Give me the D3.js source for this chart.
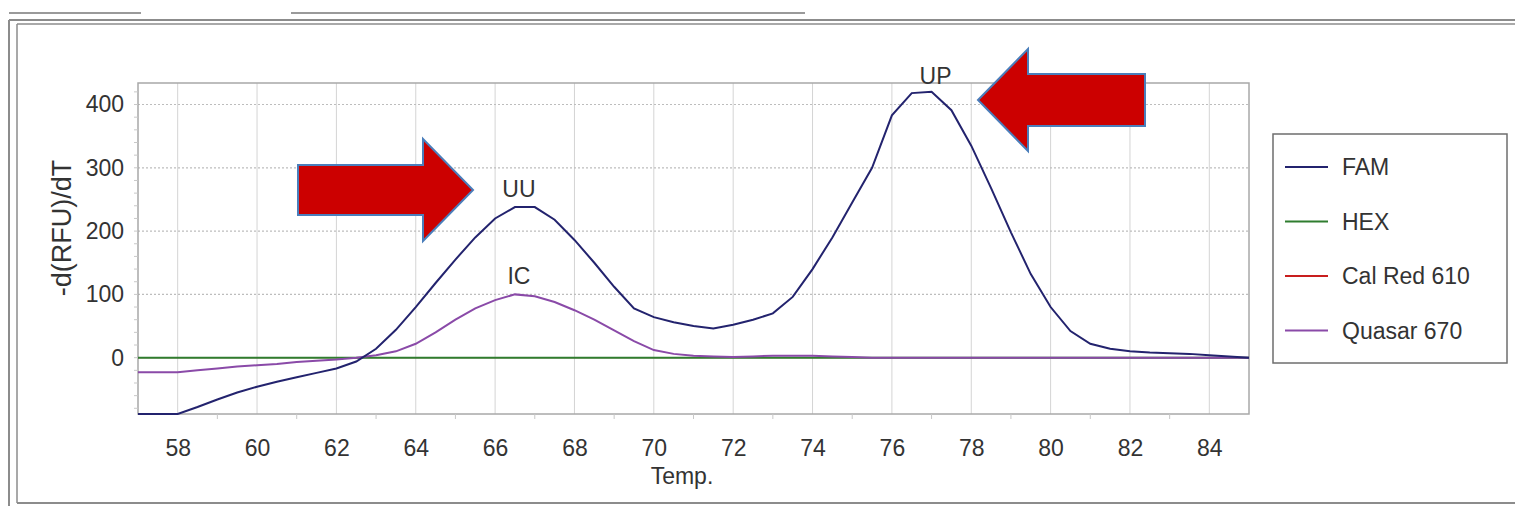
<!DOCTYPE html>
<html>
<head>
<meta charset="utf-8">
<script src="https://cdn.jsdelivr.net/npm/d3@7"></script>
<style>
  body { margin: 0; background: #fff; }
  svg { display: block; font-family: Arial, "Liberation Sans", sans-serif; }
</style>
</head>
<body>
<svg id="chart" width="1515" height="506"></svg>
<script>
// melt curve, sampled every 0.5 degree from 57 to 85
var temps = d3.range(57, 85.01, 0.5);

var famValues = [
  -89, -89, -89, -78, -66, -55, -46, -38, -31, -24,
  -17, -6, 14, 44, 80, 118, 155, 190, 220, 238,
  238, 218, 186, 150, 112, 78, 64, 56, 50, 46,
  52, 60, 70, 96, 140, 190, 245, 300, 383, 418,
  420, 391, 335, 268, 198, 132, 80, 42, 22, 14,
  10, 8, 7, 6, 4, 2, 0
];
var quasarValues = [
  -23, -23, -23, -20, -17, -14, -12, -10, -7, -5,
  -3, 0, 4, 10, 22, 40, 60, 78, 91, 100,
  97, 88, 75, 60, 43, 26, 12, 6, 3, 2,
  1, 2, 3, 3, 3, 2, 1, 0, 0, 0,
  0, 0, 0, 0, 0, 0, 0, 0, 0, 0,
  0, 0, 0, 0, 0, 0, 0
];
var hexValues = temps.map(function() { return 0; });
var calRedValues = temps.map(function() { return 0; });

var seriesNames = ["FAM", "HEX", "Cal Red 610", "Quasar 670"];
var seriesColors = ["#23236e", "#2f7d2f", "#c81e1e", "#8a4aa8"];

var xTicks = [58, 60, 62, 64, 66, 68, 70, 72, 74, 76, 78, 80, 82, 84];
var yTicks = [0, 100, 200, 300, 400];

var peakLabels = [
  {text: "UU", t: 66.6, v: 254},
  {text: "IC", t: 66.6, v: 116},
  {text: "UP", t: 77.1, v: 432}
];

var svg = d3.select("#chart");

var plot = {left: 138, top: 83, right: 1249, bottom: 414};
var x = d3.scaleLinear().domain([57, 85]).range([plot.left, plot.right]);
var y = d3.scaleLinear().domain([-89, 434]).range([plot.bottom, plot.top]);

// outer window frame
svg.append("line").attr("x1", 9).attr("x2", 141).attr("y1", 13).attr("y2", 13)
  .attr("stroke", "#9a9a9a").attr("stroke-width", 2);
svg.append("line").attr("x1", 291).attr("x2", 805).attr("y1", 13).attr("y2", 13)
  .attr("stroke", "#9a9a9a").attr("stroke-width", 2);
svg.append("line").attr("x1", 9).attr("x2", 1515).attr("y1", 20).attr("y2", 20)
  .attr("stroke", "#8c8c8c").attr("stroke-width", 2);
svg.append("line").attr("x1", 17).attr("x2", 1515).attr("y1", 24).attr("y2", 24)
  .attr("stroke", "#8c8c8c").attr("stroke-width", 1.5);
svg.append("line").attr("x1", 9).attr("x2", 9).attr("y1", 20).attr("y2", 506)
  .attr("stroke", "#8c8c8c").attr("stroke-width", 2);
svg.append("line").attr("x1", 17).attr("x2", 17).attr("y1", 24).attr("y2", 503)
  .attr("stroke", "#8c8c8c").attr("stroke-width", 1.5);
svg.append("line").attr("x1", 17).attr("x2", 1515).attr("y1", 503).attr("y2", 503)
  .attr("stroke", "#8c8c8c").attr("stroke-width", 2);

// grid
var grid = svg.append("g");
grid.selectAll("line.vgrid")
  .data(xTicks).enter()
  .append("line")
    .attr("class", "vgrid")
    .attr("x1", function(d) { return x(d); })
    .attr("x2", function(d) { return x(d); })
    .attr("y1", plot.top).attr("y2", plot.bottom)
    .attr("stroke", "#d4d4d4").attr("stroke-width", 1);
grid.selectAll("line.hgrid")
  .data(yTicks.filter(function(d) { return d > 0; })).enter()
  .append("line")
    .attr("class", "hgrid")
    .attr("x1", plot.left).attr("x2", plot.right)
    .attr("y1", function(d) { return y(d); })
    .attr("y2", function(d) { return y(d); })
    .attr("stroke", "#bdbdbd").attr("stroke-width", 1.2)
    .attr("stroke-dasharray", "2,2");

// plot frame
svg.append("rect")
  .attr("x", plot.left).attr("y", plot.top)
  .attr("width", plot.right - plot.left).attr("height", plot.bottom - plot.top)
  .attr("fill", "none").attr("stroke", "#a8a8a8").attr("stroke-width", 1.5);

// axes
var xAxis = svg.append("g")
  .attr("transform", "translate(0," + plot.bottom + ")")
  .call(d3.axisBottom(x).tickValues(xTicks).tickSize(0).tickPadding(26).tickFormat(d3.format("d")));
xAxis.select(".domain").remove();
xAxis.selectAll("text").attr("font-size", 23).attr("fill", "#333").attr("font-family", "Arial, 'Liberation Sans', sans-serif");

var yAxis = svg.append("g")
  .attr("transform", "translate(" + plot.left + ",0)")
  .call(d3.axisLeft(y).tickValues(yTicks).tickSize(0).tickPadding(14).tickFormat(d3.format("d")));
yAxis.select(".domain").remove();
yAxis.selectAll("text").attr("font-size", 23).attr("fill", "#333").attr("font-family", "Arial, 'Liberation Sans', sans-serif");

// small outside ticks
svg.selectAll("line.ytick")
  .data(d3.range(-80, 431, 20)).enter()
  .append("line")
    .attr("x1", plot.left - 4).attr("x2", plot.left)
    .attr("y1", function(d) { return y(d); })
    .attr("y2", function(d) { return y(d); })
    .attr("stroke", "#c8c8c8");
svg.selectAll("line.xtick")
  .data(d3.range(59, 85, 2)).enter()
  .append("line")
    .attr("x1", function(d) { return x(d); })
    .attr("x2", function(d) { return x(d); })
    .attr("y1", plot.bottom).attr("y2", plot.bottom + 5)
    .attr("stroke", "#c8c8c8");

svg.append("text")
  .attr("transform", "translate(71,228) rotate(-90)")
  .attr("text-anchor", "middle")
  .attr("font-size", 27)
  .attr("fill", "#333")
  .text("-d(RFU)/dT");

svg.append("text")
  .attr("x", 682).attr("y", 484)
  .attr("text-anchor", "middle")
  .attr("font-size", 23)
  .attr("fill", "#333")
  .text("Temp.");

// curves
var line = d3.line()
  .x(function(d) { return x(d[0]); })
  .y(function(d) { return y(d[1]); });
function pairs(vals) {
  return temps.map(function(t, i) { return [t, vals[i]]; });
}
var curves = svg.append("g");
curves.append("path").datum(pairs(calRedValues))
  .attr("d", line).attr("fill", "none").attr("stroke", seriesColors[2]).attr("stroke-width", 1);
curves.append("path").datum(pairs(hexValues))
  .attr("d", line).attr("fill", "none").attr("stroke", seriesColors[1]).attr("stroke-width", 2);
curves.append("path").datum(pairs(quasarValues))
  .attr("d", line).attr("fill", "none").attr("stroke", seriesColors[3]).attr("stroke-width", 2);
curves.append("path").datum(pairs(famValues))
  .attr("d", line).attr("fill", "none").attr("stroke", seriesColors[0]).attr("stroke-width", 2);

// peak labels
svg.selectAll("text.peak")
  .data(peakLabels).enter()
  .append("text")
    .attr("class", "peak")
    .attr("x", function(d) { return x(d.t); })
    .attr("y", function(d) { return y(d.v); })
    .attr("text-anchor", "middle")
    .attr("font-size", 23)
    .attr("fill", "#333")
    .text(function(d) { return d.text; });

// red arrows
function arrow(tipX, tipY, headX, shaftEnd, halfHead, halfShaft) {
  return [
    [tipX, tipY], [headX, tipY - halfHead], [headX, tipY - halfShaft],
    [shaftEnd, tipY - halfShaft], [shaftEnd, tipY + halfShaft],
    [headX, tipY + halfShaft], [headX, tipY + halfHead]
  ];
}
var arrows = [arrow(473, 190, 423, 298, 51, 25), arrow(978, 100, 1028, 1145, 51, 26)];
svg.selectAll("polygon.arrow")
  .data(arrows).enter()
  .append("polygon")
    .attr("class", "arrow")
    .attr("points", function(d) { return d.map(function(p) { return p.join(","); }).join(" "); })
    .attr("fill", "#cc0000")
    .attr("stroke", "#4a7ebb")
    .attr("stroke-width", 2);

// legend
var legend = svg.append("g");
legend.append("rect")
  .attr("x", 1273).attr("y", 134).attr("width", 234).attr("height", 229)
  .attr("fill", "#fff").attr("stroke", "#6e6e6e").attr("stroke-width", 1.5);
var rows = legend.selectAll("g.row")
  .data(seriesNames).enter()
  .append("g")
    .attr("class", "row")
    .attr("transform", function(d, i) { return "translate(0," + (167 + i * 54.5) + ")"; });
rows.append("line")
  .attr("x1", 1285).attr("x2", 1328)
  .attr("stroke", function(d, i) { return seriesColors[i]; })
  .attr("stroke-width", 2);
rows.append("text")
  .attr("x", 1342).attr("dy", "0.35em")
  .attr("font-size", 23)
  .attr("fill", "#333")
  .text(function(d) { return d; });
</script>
</body>
</html>
